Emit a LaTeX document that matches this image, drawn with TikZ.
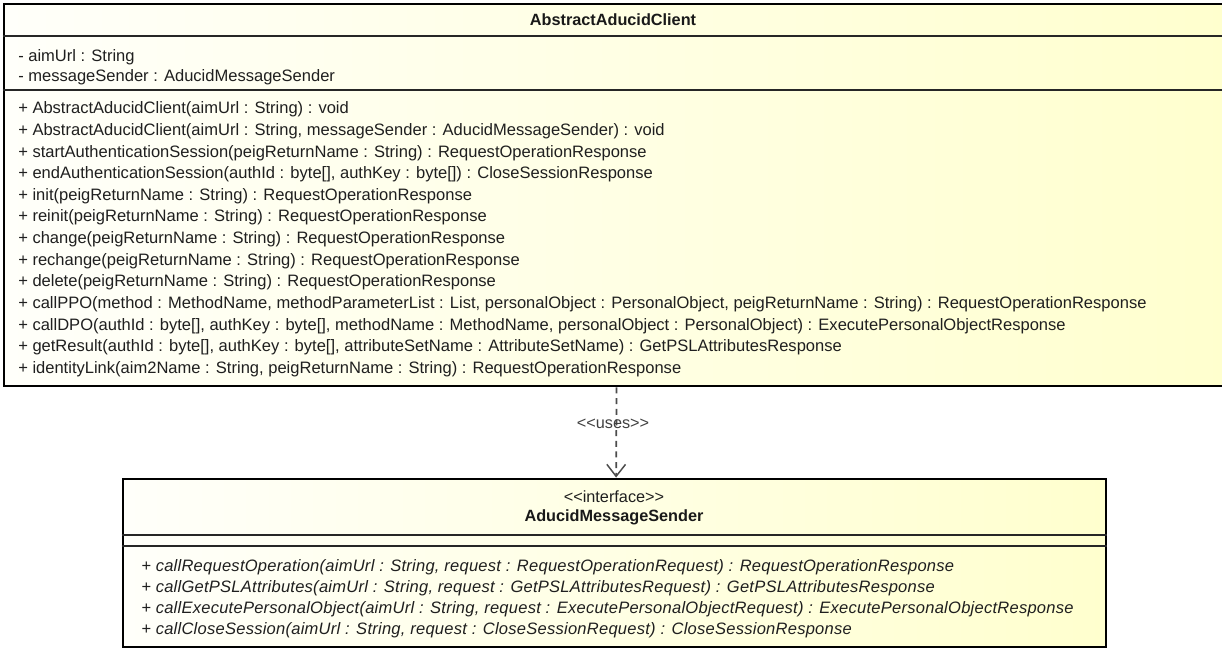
\documentclass[tikz,border=0pt]{standalone}
\usepackage{fontspec}
\setmainfont{Liberation Sans}
\usetikzlibrary{arrows.meta}
\begin{document}
\begin{tikzpicture}[x=0.75pt,y=-0.75pt,
  classbox/.style={draw=black, line width=2.2pt, inner sep=0pt,
    left color={rgb,255:red,255;green,255;blue,250}, right color={rgb,255:red,255;green,255;blue,206}},
  sepline/.style={draw=black!85, line width=1.5pt},
  member/.style={anchor=base west, inner sep=0pt, font=\fontsize{12.4pt}{14pt}\selectfont, text=black!88},
  imember/.style={member, font=\fontsize{12.4pt}{14pt}\selectfont\itshape\addfontfeatures{LetterSpace=1.5}},
  ctitle/.style={anchor=base, inner sep=0pt, font=\fontsize{12.2pt}{14pt}\selectfont\bfseries, text=black!90},
  stereo/.style={anchor=base, inner sep=0pt, font=\fontsize{12.2pt}{14pt}\selectfont, text=black!88},
  usesline/.style={draw=black!70, line width=1.3pt, dash pattern=on 4.5pt off 3.5pt},
]
\useasboundingbox (0,0) rectangle (1222,647);
\fill[white] (0,0) rectangle (1222,647);

% AbstractAducidClient
\node[classbox, minimum width=916.5pt, minimum height=286.5pt] (client) at (615,195) {};
\draw[sepline] (client.west |- 0,36) -- (client.east |- 0,36);
\draw[sepline] (client.west |- 0,90) -- (client.east |- 0,90);
\node[ctitle] (ctit) at (613,25) {AbstractAducidClient};
\node[member] (a1) at (18,61) {- aimUrl : String};
\node[member] (a2) at (18,81) {- messageSender : AducidMessageSender};
\node[member] (m1) at (18,113) {+ AbstractAducidClient(aimUrl : String) : void};
\node[member] (m2) at (18,135) {+ AbstractAducidClient(aimUrl : String, messageSender : AducidMessageSender) : void};
\node[member] (m3) at (18,157) {+ startAuthenticationSession(peigReturnName : String) : RequestOperationResponse};
\node[member] (m4) at (18,178.5) {+ endAuthenticationSession(authId : byte[], authKey : byte[]) : CloseSessionResponse};
\node[member] (m5) at (18,200) {+ init(peigReturnName : String) : RequestOperationResponse};
\node[member] (m6) at (18,221.5) {+ reinit(peigReturnName : String) : RequestOperationResponse};
\node[member] (m7) at (18,243) {+ change(peigReturnName : String) : RequestOperationResponse};
\node[member] (m8) at (18,265) {+ rechange(peigReturnName : String) : RequestOperationResponse};
\node[member] (m9) at (18,286.5) {+ delete(peigReturnName : String) : RequestOperationResponse};
\node[member] (m10) at (18,308) {+ callPPO(method : MethodName, methodParameterList : List, personalObject : PersonalObject, peigReturnName : String) : RequestOperationResponse};
\node[member] (m11) at (18,330) {+ callDPO(authId : byte[], authKey : byte[], methodName : MethodName, personalObject : PersonalObject) : ExecutePersonalObjectResponse};
\node[member] (m12) at (18,351.5) {+ getResult(authId : byte[], authKey : byte[], attributeSetName : AttributeSetName) : GetPSLAttributesResponse};
\node[member] (m13) at (18,373) {+ identityLink(aim2Name : String, peigReturnName : String) : RequestOperationResponse};

% AducidMessageSender
\node[classbox, minimum width=737.25pt, minimum height=126pt] (sender) at (614.5,563) {};
\draw[sepline] (sender.west |- 0,535) -- (sender.east |- 0,535);
\draw[sepline] (sender.west |- 0,546) -- (sender.east |- 0,546);
\node[stereo] (st) at (614,502) {<\kern0pt<interface>\kern0pt>};
\node[ctitle] (stit) at (614,521) {AducidMessageSender};
\node[imember] (s1) at (141,571) {+ callRequestOperation(aimUrl : String, request : RequestOperationRequest) : RequestOperationResponse};
\node[imember] (s2) at (141,592) {+ callGetPSLAttributes(aimUrl : String, request : GetPSLAttributesRequest) : GetPSLAttributesResponse};
\node[imember] (s3) at (141,613) {+ callExecutePersonalObject(aimUrl : String, request : ExecutePersonalObjectRequest) : ExecutePersonalObjectResponse};
\node[imember] (s4) at (141,634) {+ callCloseSession(aimUrl : String, request : CloseSessionRequest) : CloseSessionResponse};

% uses dependency
\draw[usesline, -{Straight Barb[length=9pt,width=14pt,line width=1.1pt]}] ([xshift=1.2pt]client.south) -- ([xshift=1.2pt]sender.north);
\node[stereo, text=black!75] (uses) at (613,428) {<\kern0pt<uses>\kern0pt>};
\end{tikzpicture}
\end{document}
